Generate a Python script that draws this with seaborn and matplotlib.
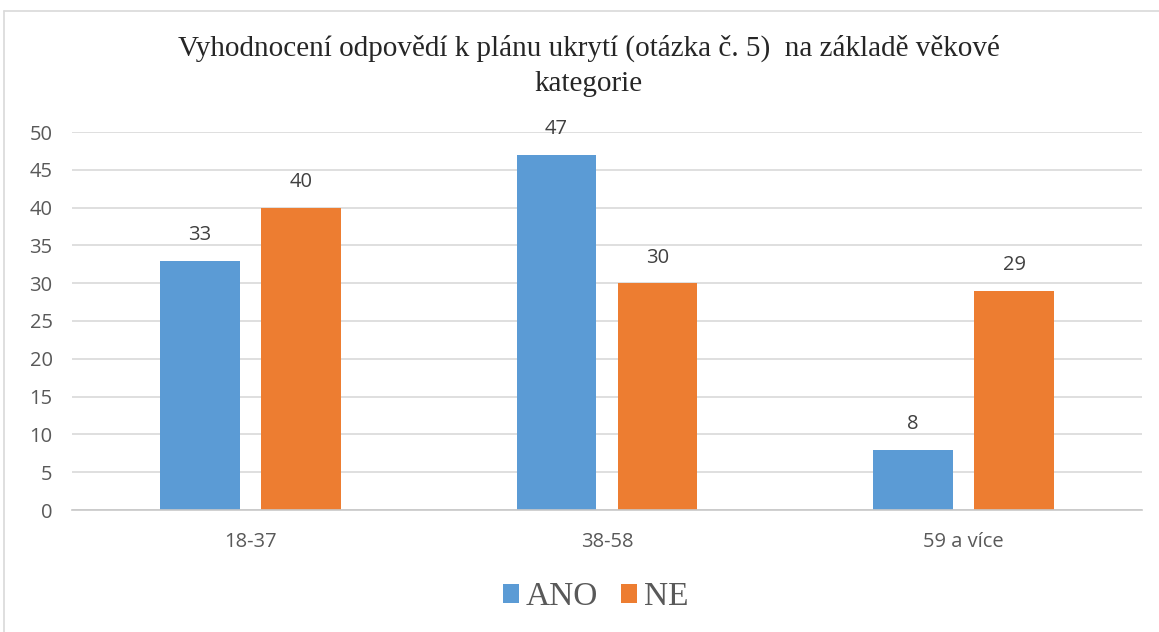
import pandas as pd
import matplotlib.pyplot as plt
import seaborn as sns
from matplotlib.lines import Line2D
from matplotlib.patches import Patch

# --- Data ---
categories = ['18-37', '38-58', '59 a více']
ano_values = [33, 47, 8]
ne_values = [40, 30, 29]
series_names = ['ANO', 'NE']
colors = ['#5B9BD5', '#ED7D31']

df = pd.DataFrame({
    'kategorie': categories * 2,
    'odpoved': [series_names[0]] * 3 + [series_names[1]] * 3,
    'pocet': ano_values + ne_values,
})

sns.set_style('white')
plt.rcParams['font.family'] = ['Open Sans', 'DejaVu Sans']

fig = plt.figure(figsize=(11.59, 6.32), dpi=100)
ax = fig.add_axes([72 / 1159, 1 - 510 / 632, 1070 / 1159, 378 / 632])

sns.barplot(data=df, x='kategorie', y='pocet', hue='odpoved', order=categories,
            hue_order=series_names, palette=colors, width=0.566, gap=0.21,
            saturation=1, legend=False, linewidth=0, ax=ax)

# --- Axes styling ---
ax.set_xlim(-0.5, 2.5)
ax.set_ylim(0, 50)
ax.set_yticks(range(0, 51, 5))
ax.yaxis.grid(True, color='#D9D9D9', linewidth=1.2)
ax.set_axisbelow(True)
for side in ['left', 'right', 'top']:
    ax.spines[side].set_visible(False)
ax.spines['bottom'].set_color('#C8C8C8')
ax.spines['bottom'].set_linewidth(1.2)
ax.tick_params(axis='both', length=0, labelsize=14.5, labelcolor='#595959')
ax.tick_params(axis='x', pad=16)
ax.tick_params(axis='y', pad=14)
ax.set_xlabel('')
ax.set_ylabel('')

# --- Data labels ---
for cont in ax.containers:
    ax.bar_label(cont, padding=11, fontsize=14.5, color='#404040')

# --- Title ---
fig.text(0.508, 1 - 48 / 632, 'Vyhodnocení odpovědí k plánu ukrytí (otázka č. 5)  na základě věkové',
         ha='center', va='center', fontsize=21, family=['Liberation Serif', 'DejaVu Serif'])
fig.text(0.508, 1 - 84 / 632, 'kategorie',
         ha='center', va='center', fontsize=21, family=['Liberation Serif', 'DejaVu Serif'])

# --- Legend ---
handles = [Patch(facecolor=c, edgecolor='none') for c in colors]
leg = fig.legend(handles, series_names, loc='center', bbox_to_anchor=(0.514, 1 - 597 / 632),
                 ncol=2, frameon=False, handlelength=0.48, handleheight=0.48, handletextpad=0.22,
                 columnspacing=0.67, prop={'family': 'Liberation Serif', 'size': 24})
for t in leg.get_texts():
    t.set_color('#595959')

# --- Outer frame (chart border) ---
fig.add_artist(Line2D([4 / 1159, 4 / 1159], [0, 1 - 11 / 632], color='#D9D9D9', lw=1.2))
fig.add_artist(Line2D([4 / 1159, 1], [1 - 11 / 632, 1 - 11 / 632], color='#D9D9D9', lw=1.2))

fig.savefig('out.png', dpi=100)
plt.close()
